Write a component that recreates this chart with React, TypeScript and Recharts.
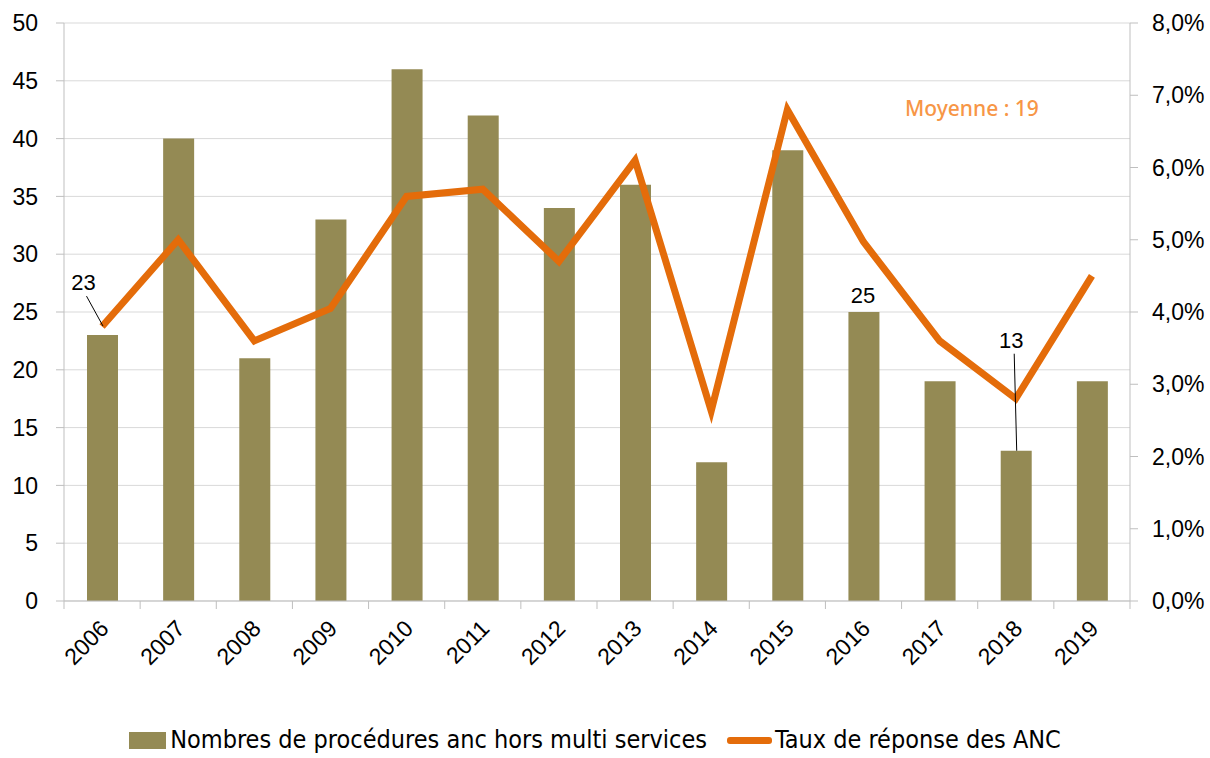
import {
  ComposedChart, Bar, Line, XAxis, YAxis, CartesianGrid, Legend, LabelList,
} from 'recharts';

const years = ['2006', '2007', '2008', '2009', '2010', '2011', '2012', '2013', '2014', '2015', '2016', '2017', '2018', '2019'];
const procedures = [23, 40, 21, 33, 46, 42, 34, 36, 12, 39, 25, 19, 13, 19];
const tauxReponse = [0.038, 0.050, 0.036, 0.0405, 0.056, 0.057, 0.047, 0.061, 0.0263, 0.068, 0.0497, 0.036, 0.028, 0.045];
const barLabels = ['23', '', '', '', '', '', '', '', '', '', '25', '', '13', ''];
const leftTicks = [0, 5, 10, 15, 20, 25, 30, 35, 40, 45, 50];
const rightTicks = [0, 0.01, 0.02, 0.03, 0.04, 0.05, 0.06, 0.07, 0.08];

const OLIVE = '#948A54';
const ORANGE = '#E46C0A';
const AXIS = '#BFBFBF';
const FONT = '"Liberation Sans", Arial, sans-serif';

const data = years.map((y, i) => ({
  year: y,
  procedures: procedures[i],
  taux: tauxReponse[i],
  label: barLabels[i],
}));

const fmtPct = (v: number) => `${(v * 100).toFixed(1).replace('.', ',')}%`;

// where each data label sits relative to its bar top
const labelPlacement: Record<string, { dx: number; dy: number; leader: boolean }> = {
  '2006': { dx: -19, dy: -45, leader: true },
  '2016': { dx: -1, dy: -9, leader: false },
  '2018': { dx: -5, dy: -103, leader: true },
};

function BarLabel(props: any) {
  const { x, y, width, value, index } = props;
  if (!value) return null;
  const p = labelPlacement[years[index]];
  const cx = x + width / 2;
  const tx = cx + p.dx;
  const ty = y + p.dy;
  return (
    <g>
      {p.leader && (
        <line x1={tx + 3} y1={ty + 6} x2={cx + 0.5} y2={index === 0 ? y - 9 : y} stroke="#000" strokeWidth={1} />
      )}
      <text x={tx} y={ty} textAnchor="middle" fontFamily={FONT} fontSize={22} fill="#000">{value}</text>
    </g>
  );
}

function YearTick(props: any) {
  const { x, y, payload, index } = props;
  const half = 1066 / 14 / 2;
  return (
    <g>
      <line x1={x - half} y1={y - 8} x2={x - half} y2={y} stroke={AXIS} />
      {index === years.length - 1 && <line x1={x + half} y1={y - 8} x2={x + half} y2={y} stroke={AXIS} />}
      <text
        x={x + 8}
        y={y + 21}
        textAnchor="end"
        transform={`rotate(-45, ${x + 8}, ${y + 21})`}
        fontFamily={FONT}
        fontSize={23}
        fill="#000"
      >
        {payload.value}
      </text>
    </g>
  );
}

function LegendContent() {
  const textStyle = { fontFamily: '"Liberation Sans Narrow", "DejaVu Sans Condensed", sans-serif', fontSize: 25, color: '#000', lineHeight: '26px' };
  return (
    <div style={{ display: 'flex', justifyContent: 'center', alignItems: 'center', height: 36, paddingTop: 4, marginLeft: -20 }}>
      <div style={{ display: 'flex', alignItems: 'center', marginRight: 20 }}>
        <span style={{ display: 'inline-block', width: 37, height: 17, background: OLIVE, marginRight: 4 }} />
        <span style={textStyle}>Nombres de procédures anc hors multi services</span>
      </div>
      <div style={{ display: 'flex', alignItems: 'center' }}>
        <span style={{ display: 'inline-block', width: 45, height: 7, background: ORANGE, borderRadius: 3, marginRight: 3 }} />
        <span style={textStyle}>Taux de réponse des ANC</span>
      </div>
    </div>
  );
}

export default function App() {
  return (
    <div style={{ position: 'absolute', left: 0, top: 0, width: 1210, height: 758, background: '#fff', overflow: 'hidden' }}>
      <ComposedChart width={1210} height={758} data={data} margin={{ top: 23, right: 0, left: 0, bottom: 0 }}>
        <CartesianGrid vertical={false} stroke="#D9D9D9" yAxisId="left" />
        <XAxis
          dataKey="year"
          height={117}
          axisLine={{ stroke: AXIS }}
          tickLine={false}
          tick={<YearTick />}
          interval={0}
        />
        <YAxis
          yAxisId="left"
          width={64}
          domain={[0, 50]}
          ticks={leftTicks}
          axisLine={{ stroke: AXIS }}
          tickLine={{ stroke: AXIS }}
          tickSize={8}
          tickMargin={18}
          tick={{ fill: '#000', fontSize: 23, fontFamily: FONT }}
        />
        <YAxis
          yAxisId="right"
          orientation="right"
          width={80}
          domain={[0, 0.08]}
          ticks={rightTicks}
          tickFormatter={fmtPct}
          axisLine={{ stroke: AXIS }}
          tickLine={{ stroke: AXIS }}
          tickSize={8}
          tickMargin={14}
          tick={{ fill: '#000', fontSize: 23, fontFamily: FONT }}
        />
        <Legend verticalAlign="bottom" height={40} content={<LegendContent />} />
        <Bar yAxisId="left" dataKey="procedures" fill={OLIVE} barSize={31} isAnimationActive={false}>
          <LabelList dataKey="label" content={<BarLabel />} />
        </Bar>
        <Line
          yAxisId="right"
          type="linear"
          dataKey="taux"
          stroke={ORANGE}
          strokeWidth={7}
          dot={false}
          activeDot={false}
          isAnimationActive={false}
        />
      </ComposedChart>
      <div
        style={{
          position: 'absolute',
          left: 905,
          top: 94,
          fontFamily: '"Noto Sans", sans-serif',
          fontWeight: 500,
          fontSize: 21,
          color: '#F79646',
        }}
      >
        Moyenne : 19
      </div>
    </div>
  );
}
